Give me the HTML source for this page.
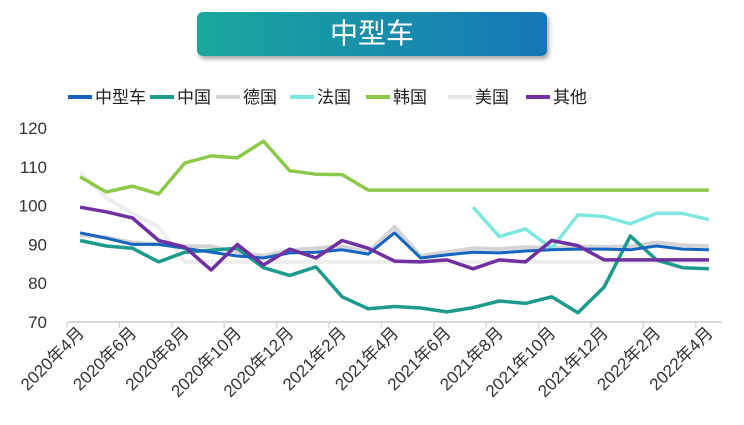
<!DOCTYPE html>
<html><head><meta charset="utf-8"><style>
body{margin:0;background:#fff;font-family:"Liberation Sans","Noto Sans CJK SC",sans-serif}
#wrap{position:relative;width:744px;height:425px;overflow:hidden}
#title{position:absolute;left:197px;top:12px;width:350px;height:44px;border-radius:6px;background:linear-gradient(90deg,#1aa79c,#1577b8);box-shadow:2px 3px 4px rgba(0,0,0,.35);color:#fff;font-size:28px;text-align:center;line-height:44px}
</style></head><body>
<div id="wrap">
<div id="title">中型车</div>
<svg id="svg" width="744" height="425" style="position:absolute;left:0;top:0"></svg>
</div>
<script>
const months=["2020年4月","2020年5月","2020年6月","2020年7月","2020年8月","2020年9月","2020年10月","2020年11月","2020年12月","2021年1月","2021年2月","2021年3月","2021年4月","2021年5月","2021年6月","2021年7月","2021年8月","2021年9月","2021年10月","2021年11月","2021年12月","2022年1月","2022年2月","2022年3月","2022年4月"];
const yTicks=[70,80,90,100,110,120];
const sMid=[93,91.6,90,90,89,88,87,86.5,87.8,88,88.6,87.5,93,86.5,87.3,88,87.8,88.3,88.6,88.8,88.8,88.6,89.6,88.8,88.6];
const sChina=[91,89.6,89,85.5,88,88.5,89,84,82,84.2,76.5,73.4,74,73.6,72.6,73.7,75.4,74.8,76.5,72.4,79,92.2,86,84,83.7];
const sGermany=[92.5,91.8,90.5,90,89.5,89.5,88,87,88.5,89,89.5,88,94.5,87,88,89,88.8,89.3,89,89.5,89.3,89.5,90.5,89.8,89.5];
const sFrance=[null,null,null,null,null,null,null,null,null,null,null,null,null,null,null,99.6,92,94,89,97.6,97.2,95.3,98,98,96.4];
const sKorea=[107.4,103.5,105,103,111,112.8,112.3,116.6,109,108.1,108,104,104,104,104,104,104,104,104,104,104,104,104,104,104];
const sUSA=[108.5,102,98,94.5,85.5,85.5,85.5,85.5,85.5,85.5,85.5,85.5,85.5,85.5,85.5,85.5,85.5,85.5,85.5,85.5,85.5,85.5,85.5,85.5,85.5];
const sOther=[99.6,98.4,96.8,91,89.3,83.4,90,84.7,88.8,86.5,91,89,85.7,85.5,86,83.7,86,85.5,91,89.7,86,86,86,86,86];
const series=[
 {n:"中型车",d:sMid,c:"#1565c0",w:3},
 {n:"中国",d:sChina,c:"#1c9b8c",w:3.5},
 {n:"德国",d:sGermany,c:"#d4d4d4",w:4},
 {n:"法国",d:sFrance,c:"#7ee8e0",w:3.5},
 {n:"韩国",d:sKorea,c:"#8cc94a",w:3.5},
 {n:"美国",d:sUSA,c:"#ededed",w:4},
 {n:"其他",d:sOther,c:"#7030a0",w:3.5}];
const drawOrder=[5,2,4,3,1,0,6];
const L=67,R=722,T=128,B=322;
const cw=(R-L)/months.length;
const x=i=>L+cw*(i+0.5);
const y=v=>B-(v-70)/(120-70)*(B-T);
const svg=document.getElementById('svg');const NS="http://www.w3.org/2000/svg";
function mk(t,a){const e=document.createElementNS(NS,t);for(const k in a)e.setAttribute(k,a[k]);svg.appendChild(e);return e;}
let ax=mk('line',{x1:L,y1:B,x2:R,y2:B,stroke:'#d9d9d9','stroke-width':2});

for(let i=0;i<=months.length;i+=2){let t=mk('line',{x1:L+cw*i,y1:B,x2:L+cw*i,y2:B+6,stroke:'#d9d9d9','stroke-width':1.5});
}
yTicks.forEach(v=>{let t=mk('text',{x:47,y:y(v)+6,'text-anchor':'end','font-size':17,fill:'#333'});t.textContent=v;
});
months.forEach((m,i)=>{if(i%2)return;const px=x(i)+5,py=B+12;
let t=mk('text',{x:px,y:py,'text-anchor':'end','font-size':17,fill:'#333',transform:`rotate(-45 ${px} ${py})`});t.textContent=m;
});
drawOrder.forEach(k=>{const s=series[k];let d="",pen=false;
s.d.forEach((v,i)=>{if(v==null){pen=false;return;}d+=(pen?"L":"M")+x(i).toFixed(1)+","+y(v).toFixed(1);pen=true;});
let p=mk('path',{d:d,fill:'none',stroke:s.c,'stroke-width':s.w,'stroke-linejoin':'round'});
});
const lx=[68,150,216,290,366,448,526];
series.forEach((s,i)=>{let g=mk('line',{x1:lx[i],y1:97,x2:lx[i]+24,y2:97,stroke:s.c==="#ededed"?"#e6e6e6":s.c,'stroke-width':4});

let t=mk('text',{x:lx[i]+27,y:103,'font-size':17,fill:'#222'});t.textContent=s.n;
});
</script>
</body></html>
